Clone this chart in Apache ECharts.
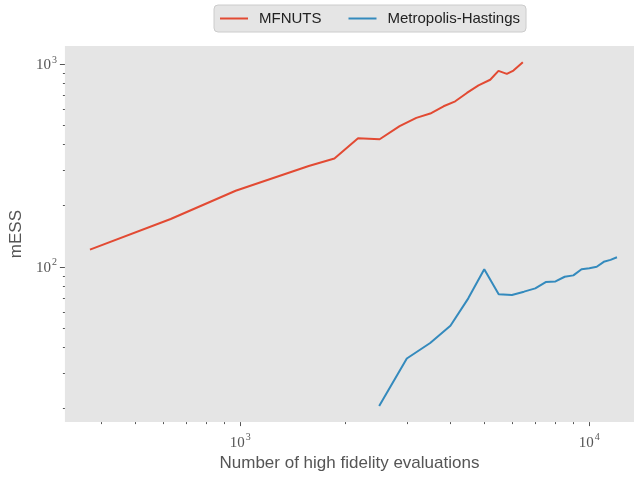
<!DOCTYPE html>
<html>
<head>
<meta charset="utf-8">
<script src="https://cdn.jsdelivr.net/npm/echarts@6/dist/echarts.min.js"></script>
<style>
  html, body { margin: 0; padding: 0; background: #fff; }
  #chart { width: 634px; height: 477px; }
</style>
</head>
<body>
<div id="chart"></div>
<script>
// MFNUTS run: evaluations vs mESS
const mfnutsEvals = [371, 632, 970, 1571, 1861, 2175, 2508, 2861, 3194, 3502, 3823, 4129, 4459, 4814, 5200, 5492, 5803, 6062, 6449]
const mfnutsESS = [121.5, 172, 237, 314, 342, 430, 425, 493, 542, 569, 618, 654, 719, 783, 835, 924, 893, 927, 1019]

// Metropolis-Hastings run
const mhEvals = [2500, 3000, 3500, 4000, 4500, 5000, 5500, 6000, 6500, 7000, 7500, 8000, 8500, 9000, 9500, 10000, 10500, 11000, 11500, 12000]
const mhESS = [20.6, 35.3, 42.1, 51.2, 69.9, 97.3, 73.2, 72.6, 75.4, 78.3, 84.1, 84.7, 89.3, 90.7, 97.3, 98.4, 100, 105.8, 108.2, 111.4]

// ticks
const xMajor = [1000, 10000]
const xMinor = [400, 500, 600, 700, 800, 900, 2000, 3000, 4000, 5000, 6000, 7000, 8000, 9000]
const yMajor = [100, 1000]
const yMinor = [20, 30, 40, 50, 60, 70, 80, 90, 200, 300, 400, 500, 600, 700, 800, 900]

const xRange = [314.5, 13427]
const yRange = [17.16, 1225]

const zip = (xs, ys) => xs.map((x, i) => [x, ys[i]])

const powLabel = v => '{b|10}{s|' + Math.round(Math.log10(v)) + '}'
const labelRich = {
  b: { fontFamily: 'Liberation Serif', fontSize: 15, color: '#555', verticalAlign: 'bottom' },
  s: { fontFamily: 'Liberation Serif', fontSize: 10, color: '#555', verticalAlign: 'bottom', padding: [0, 0, 8, 1] }
}
const tickColor = '#555'

const chart = echarts.init(document.getElementById('chart'))
chart.setOption({
  animation: false,
  backgroundColor: '#fff',
  legend: {
    left: 214,
    top: 5,
    padding: [6, 6],
    backgroundColor: '#E5E5E5',
    borderColor: '#CCCCCC',
    borderWidth: 1,
    borderRadius: 4,
    icon: 'rect',
    itemWidth: 28,
    itemHeight: 2,
    itemGap: 27,
    textStyle: { fontFamily: 'Liberation Sans', fontSize: 15, color: '#222', padding: [0, 0, 0, 6] },
    data: ['MFNUTS', 'Metropolis-Hastings']
  },
  grid: { left: 64, top: 46, right: 0, bottom: 52.3, show: true, backgroundColor: '#E5E5E5', borderWidth: 0 },
  xAxis: [
    {
      type: 'log',
      min: xRange[0],
      max: xRange[1],
      name: 'Number of high fidelity evaluations',
      nameLocation: 'middle',
      nameGap: 30,
      nameTextStyle: { fontFamily: 'Liberation Sans', fontSize: 17, color: '#555' },
      axisLine: { show: false },
      axisTick: { show: true, customValues: xMajor, length: 4, lineStyle: { color: tickColor } },
      axisLabel: { customValues: xMajor, formatter: powLabel, rich: labelRich, margin: 10 },
      splitLine: { show: true, showMinLine: false, showMaxLine: false, lineStyle: { color: '#fff', width: 1 } }
    },
    {
      type: 'log',
      min: xRange[0],
      max: xRange[1],
      position: 'bottom',
      axisLine: { show: false },
      axisTick: { show: true, customValues: xMinor, length: 2, lineStyle: { color: tickColor } },
      axisLabel: { show: false },
      splitLine: { show: false }
    }
  ],
  yAxis: [
    {
      type: 'log',
      min: yRange[0],
      max: yRange[1],
      name: 'mESS',
      nameLocation: 'middle',
      nameGap: 31,
      nameTextStyle: { fontFamily: 'Liberation Sans', fontSize: 17, color: '#555' },
      axisLine: { show: false },
      axisTick: { show: true, customValues: yMajor, length: 5, lineStyle: { color: tickColor } },
      axisLabel: { customValues: yMajor, formatter: powLabel, rich: labelRich, margin: 8 },
      splitLine: { show: true, showMinLine: false, showMaxLine: false, lineStyle: { color: '#fff', width: 1 } }
    },
    {
      type: 'log',
      min: yRange[0],
      max: yRange[1],
      position: 'left',
      axisLine: { show: false },
      axisTick: { show: true, customValues: yMinor, length: 2, lineStyle: { color: tickColor } },
      axisLabel: { show: false },
      splitLine: { show: false }
    }
  ],
  series: [
    {
      name: 'MFNUTS',
      type: 'line',
      xAxisIndex: 0,
      yAxisIndex: 0,
      showSymbol: false,
      symbol: 'none',
      color: '#E24A33',
      lineStyle: { width: 2, color: '#E24A33' },
      data: zip(mfnutsEvals, mfnutsESS)
    },
    {
      name: 'Metropolis-Hastings',
      type: 'line',
      xAxisIndex: 0,
      yAxisIndex: 0,
      showSymbol: false,
      symbol: 'none',
      color: '#348ABD',
      lineStyle: { width: 2, color: '#348ABD' },
      data: zip(mhEvals, mhESS)
    }
  ]
})
</script>
</body>
</html>
